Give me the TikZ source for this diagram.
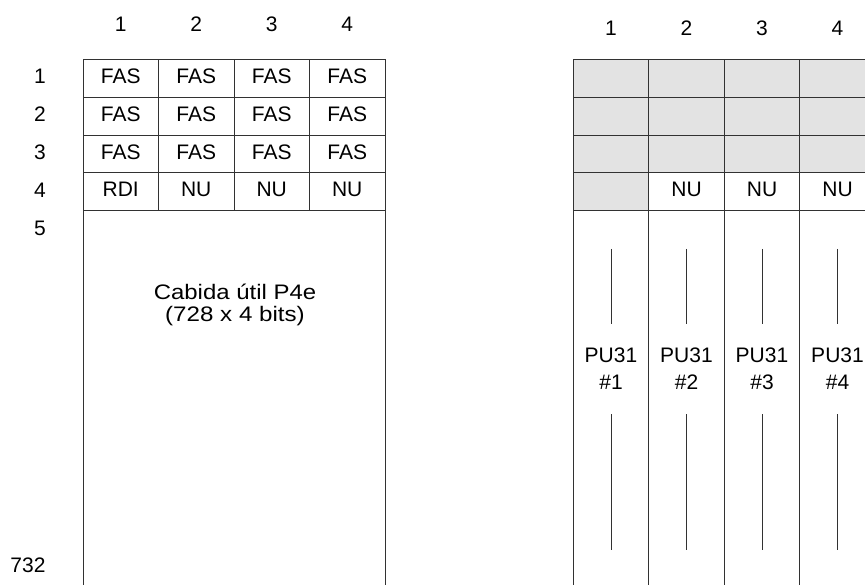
\documentclass[tikz,border=0pt]{standalone}
\usepackage{fontspec}
\setmainfont{Liberation Sans}
\definecolor{shade}{RGB}{227,227,227}
\definecolor{ln}{RGB}{50,50,50}
\tikzset{
  cell/.style={draw=ln, line width=1pt, minimum width=75.5pt, minimum height=37.9pt, inner sep=0pt,
     text height=15pt, text depth=5pt, font=\fontsize{21}{23}\selectfont},
  shaded/.style={cell, fill=shade},
  lbl/.style={inner sep=0pt, text height=15pt, text depth=0pt, font=\fontsize{21}{23}\selectfont},
  col/.style={draw=ln, line width=1pt, minimum width=75.5pt, minimum height=389pt, inner sep=0pt},
  seg/.style={draw=ln, line width=1pt},
}
\begin{document}
\begin{tikzpicture}[x=1pt,y=-1pt]
\useasboundingbox (0,0) rectangle (865,585);
\clip (0,0) rectangle (865,585);
% left table
\foreach \c/\x in {1/120.75,2/196.25,3/271.75,4/347.25}{
  \node[lbl] (lc\c) at (\x,24.5) {\c};
}
\foreach \r/\y in {1/76.5,2/114.4,3/152.3,4/190.2,5/227.6}{
  \node[lbl] (lr\r) at (40,\y) {\r};
}
\node[lbl] (l732) at (28,565) {732};
\foreach \r/\y in {1/78.25,2/116.15,3/154.05}{
  \foreach \c/\x in {1/120.75,2/196.25,3/271.75,4/347.25}{
    \node[cell] (L\r\c) at (\x,\y) {FAS};
  }
}
\node[cell] (L41) at (120.75,191.95) {RDI};
\node[cell] (L42) at (196.25,191.95) {NU};
\node[cell] (L43) at (271.75,191.95) {NU};
\node[cell] (L44) at (347.25,191.95) {NU};
\node[draw=ln, line width=1pt, minimum width=302pt, minimum height=389pt, inner sep=0pt] (Lbig) at (234,405.4) {};
\node[inner sep=0pt, align=center, font=\fontsize{21}{21.5}\selectfont] (cab) at (235,305) {\scalebox{1.14}[1]{Cabida útil P4e}\\\scalebox{1.15}[1]{(728 x 4 bits)}};
% right table
\foreach \c/\x in {1/611,2/686.5,3/762,4/837.5}{
  \node[lbl] (rc\c) at (\x,28.5) {\c};
}
\foreach \r/\y in {1/78.25,2/116.15,3/154.05}{
  \foreach \c/\x in {1/611,2/686.5,3/762,4/837.5}{
    \node[shaded] (R\r\c) at (\x,\y) {};
  }
}
\node[shaded] (R41) at (611,191.95) {};
\node[cell] (R42) at (686.5,191.95) {NU};
\node[cell] (R43) at (762,191.95) {NU};
\node[cell] (R44) at (837.5,191.95) {NU};
\foreach \c/\x in {1/611,2/686.5,3/762,4/837.5}{
  \node[col] (RC\c) at (\x,405.4) {};
  \node[inner sep=0pt, align=center, font=\fontsize{21}{27}\selectfont] (pu\c) at (\x,369) {PU31\\\#\c};
  \coordinate (t\c a) at (\x,249);
  \coordinate (t\c b) at (\x,324);
  \coordinate (b\c a) at (\x,414);
  \coordinate (b\c b) at (\x,550);
  \draw[seg] (t\c a) -- (t\c b);
  \draw[seg] (b\c a) -- (b\c b);
}
\end{tikzpicture}
\end{document}
